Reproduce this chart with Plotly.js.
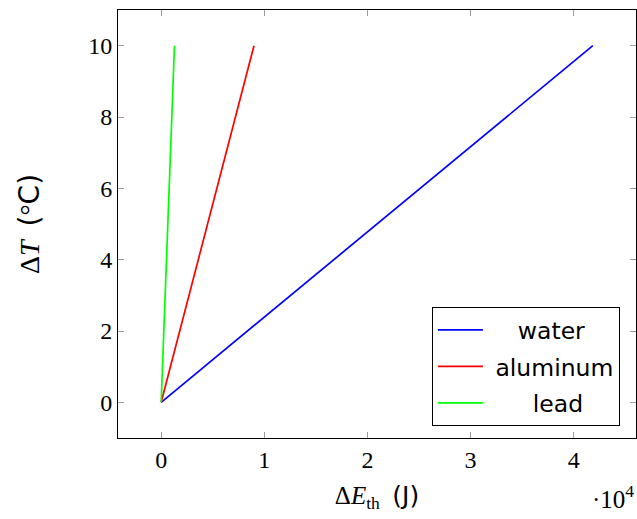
<!DOCTYPE html>
<html>
<head>
<meta charset="utf-8">
<script src="https://cdn.plot.ly/plotly-3.0.1.min.js"></script>
<style>html,body{margin:0;padding:0;background:#fff;}#chart{width:637px;height:519px;}</style>
</head>
<body>
<div id="chart"></div>
<script>
// Thermal energy (J) needed for temperature rise (°C), 1 kg of each material
const materials = ["water", "aluminum", "lead"];
const colors = ["#0000ff", "#ff0000", "#00ff00"];
const deltaT = [0, 10];
const energyWater = [0, 41860];
const energyAluminum = [0, 9000];
const energyLead = [0, 1290];
const xTickVals = [0, 10000, 20000, 30000, 40000];
const xTickText = ["0", "1", "2", "3", "4"];
const yTickVals = [0, 2, 4, 6, 8, 10];

// leading padding so legend labels appear centred like the original
const legendPad = ["\u00a0\u00a0\u00a0\u00a0", "\u00a0", "\u00a0\u00a0\u00a0\u00a0\u00a0\u00a0"];

const energies = [energyWater, energyAluminum, energyLead];
const traces = materials.map((m, i) => ({
  x: energies[i], y: deltaT, type: "scatter", mode: "lines", name: legendPad[i] + m,
  legendgroup: m,
  line: {color: colors[i], width: 1.7}
}));

const serif = "Liberation Serif";
const sans = "DejaVu Sans";

const layout = {
  width: 637, height: 519,
  margin: {l: 118, r: 1, t: 10, b: 81},
  paper_bgcolor: "#fff", plot_bgcolor: "#fff",
  showlegend: true,
  xaxis: {
    range: [-4186, 46046], tickvals: xTickVals, ticktext: xTickText,
    ticks: "inside", ticklen: 6, tickcolor: "#999", tickwidth: 1,
    showline: true, linecolor: "#000", linewidth: 1, mirror: "allticks",
    showgrid: false, zeroline: false,
    tickfont: {family: serif, size: 24, color: "#000"},
    title: {text: "Δ<i>E</i><sub>th</sub>  <span style=\"font-family:DejaVu Sans\">(J)</span>", font: {family: serif, size: 25, color: "#000"}, standoff: 14}
  },
  yaxis: {
    range: [-1, 11], tickvals: yTickVals,
    ticks: "inside", ticklen: 6, tickcolor: "#999", tickwidth: 1,
    showline: true, linecolor: "#000", linewidth: 1, mirror: "allticks",
    showgrid: false, zeroline: false,
    tickfont: {family: serif, size: 24, color: "#000"},
    title: {text: "Δ<i>T</i>  <span style=\"font-family:DejaVu Sans\">(</span>°<span style=\"font-family:DejaVu Sans\">C)</span>", font: {family: serif, size: 28, color: "#000"}, standoff: 40}
  },
  legend: {
    x: 0.969, y: 0.028, xanchor: "right", yanchor: "bottom",
    bordercolor: "#000", borderwidth: 1, bgcolor: "#fff",
    font: {family: sans, size: 23.5, color: "#000"},
    itemwidth: 45, tracegroupgap: 3
  },
  annotations: [{
    xref: "paper", yref: "paper", x: 1.0, y: -0.137, xanchor: "right", yanchor: "middle",
    text: "·10<sup>4</sup>", showarrow: false,
    font: {family: serif, size: 25, color: "#000"}
  }]
};

Plotly.newPlot("chart", traces, layout, {displayModeBar: false, staticPlot: true});
</script>
</body>
</html>
